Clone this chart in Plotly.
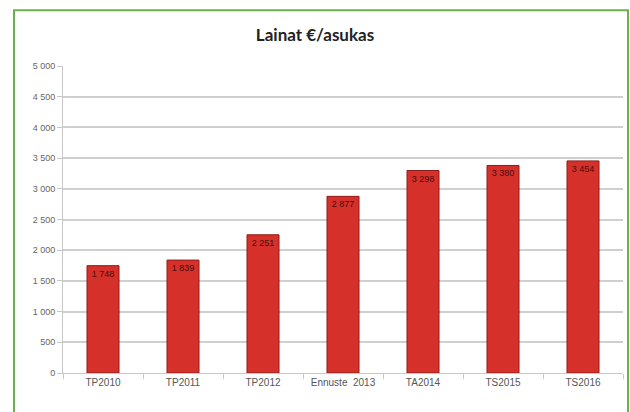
import plotly.graph_objects as go

categories = ["TP2010", "TP2011", "TP2012", "Ennuste  2013", "TA2014", "TS2015", "TS2016"]
values = [1748, 1839, 2251, 2877, 3298, 3380, 3454]
labels = ["1 748", "1 839", "2 251", "2 877", "3 298", "3 380", "3 454"]
y_ticks = [0, 500, 1000, 1500, 2000, 2500, 3000, 3500, 4000, 4500, 5000]
y_tick_text = ["0", "500", "1 000", "1 500", "2 000", "2 500", "3 000", "3 500", "4 000", "4 500", "5 000"]

fig = go.Figure()
fig.add_trace(go.Bar(
    x=categories, y=values, text=labels,
    textposition="inside", insidetextanchor="end",
    textfont=dict(size=9, color="#4a0d0d", family="Liberation Sans"),
    textangle=0,
    marker=dict(color="#d6302b", line=dict(color="#8e1c18", width=1)),
    width=0.4,
))

fig.update_layout(
    width=630, height=412,
    margin=dict(l=63, r=7, t=66, b=39),
    paper_bgcolor="white", plot_bgcolor="white",
    showlegend=False,
    title=dict(text="<b>Lainat €/asukas</b>", x=0.5, xanchor="center",
               y=1 - 35 / 412, yanchor="middle",
               font=dict(size=17, color="#222222", family="Lato")),
    font=dict(family="Liberation Sans", size=9, color="#666666"),
)
fig.update_yaxes(range=[0, 5000], tickvals=y_ticks, ticktext=y_tick_text,
                 showgrid=True, gridcolor="#cfcfcf", gridwidth=1.5,
                 showline=True, linecolor="#c8c8c8", ticks="outside", ticklen=5, tickcolor="#c8c8c8",
                 tickfont=dict(size=9, color="#666666"), zeroline=False)
fig.update_xaxes(showline=True, linecolor="#c8c8c8", ticks="outside", ticklen=5, tickcolor="#c8c8c8",
                 tickson="boundaries", tickfont=dict(size=10, color="#555555"))

fig.add_shape(type="rect", xref="paper", yref="paper",
              x0=-0.0875, x1=1.009, y0=-0.3, y1=1.182,
              line=dict(color="#6ab04c", width=2), fillcolor="rgba(0,0,0,0)", layer="below")

fig.write_html("out.html", config={"displayModeBar": False},
               post_script="document.body.style.margin='0';document.body.style.overflow='hidden';")
